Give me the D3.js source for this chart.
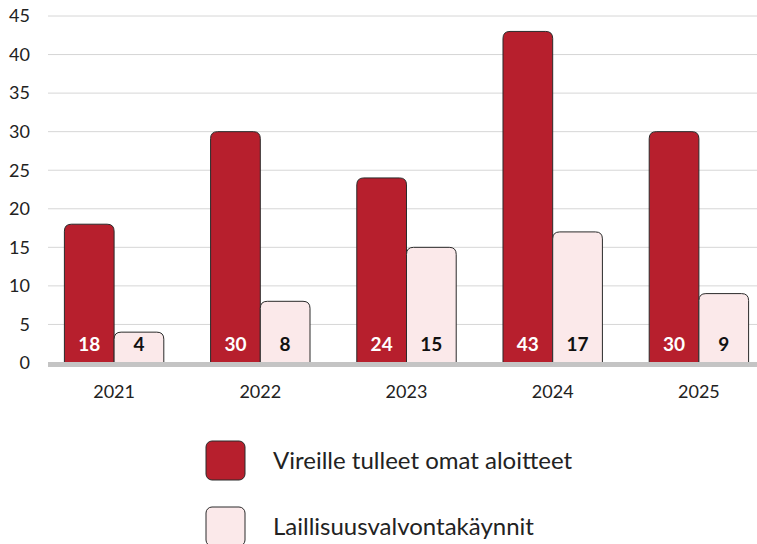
<!DOCTYPE html>
<html>
<head>
<meta charset="utf-8">
<script src="https://cdn.jsdelivr.net/npm/d3@7"></script>
<style>
  body { margin: 0; background: #fff; }
  text { font-family: Lato, "Open Sans", sans-serif; }
</style>
</head>
<body>
<div id="chart"></div>
<script>
const years = ["2021", "2022", "2023", "2024", "2025"]
const omatAloitteet = [18, 30, 24, 43, 30]
const valvontakaynnit = [4, 8, 15, 17, 9]
const seriesNames = ["Vireille tulleet omat aloitteet", "Laillisuusvalvontakäynnit"]
const yTicks = [0, 5, 10, 15, 20, 25, 30, 35, 40, 45]

const width = 757, height = 544
const red = "#b71f2d", pink = "#fbe9ea"

const svg = d3.select("#chart").append("svg")
  .attr("width", width).attr("height", height)

const y = d3.scaleLinear().domain([0, 45]).range([363, 16])
const x = d3.scaleBand().domain(years).range([41, 772]).paddingInner(0.32).paddingOuter(0.16)
const sub = d3.scaleBand().domain([0, 1]).range([0, x.bandwidth()])

// gridlines
svg.append("g").selectAll("line").data(yTicks.filter(d => d > 0)).enter()
  .append("line")
  .attr("x1", 48).attr("x2", width)
  .attr("y1", d => y(d)).attr("y2", d => y(d))
  .attr("stroke", "#d6d6d6").attr("stroke-width", 1)

svg.append("g").selectAll("text").data(yTicks).enter()
  .append("text")
  .attr("x", 30).attr("y", d => y(d))
  .attr("dy", "0.35em").attr("text-anchor", "end")
  .attr("font-size", 18).attr("fill", "#222")
  .text(d => d)

// rounded-top bar path
function topRounded(x0, y0, w, h, r) {
  r = Math.min(r, h)
  return `M${x0},${y0 + h}V${y0 + r}Q${x0},${y0} ${x0 + r},${y0}H${x0 + w - r}Q${x0 + w},${y0} ${x0 + w},${y0 + r}V${y0 + h}Z`
}

const rows = years.map((yr, i) => ({year: yr, vals: [omatAloitteet[i], valvontakaynnit[i]]}))
const groups = svg.selectAll(".eventGroups").data(rows).enter()
  .append("g").attr("class", "eventGroups")
  .attr("transform", d => `translate(${x(d.year)},0)`)

groups.selectAll("path").data(d => d.vals).enter()
  .append("path")
  .attr("d", (d, i) => topRounded(sub(i), y(d), sub.bandwidth(), y(0) - y(d), 7))
  .attr("fill", (d, i) => i === 0 ? red : pink)
  .attr("stroke", "#2a2a2a").attr("stroke-width", 1)

groups.selectAll("text.val").data(d => d.vals).enter()
  .append("text").attr("class", "val")
  .attr("x", (d, i) => sub(i) + sub.bandwidth() / 2)
  .attr("y", 344).attr("dy", "0.35em")
  .attr("text-anchor", "middle")
  .attr("font-size", 19).attr("font-weight", "bold")
  .attr("fill", (d, i) => i === 0 ? "#fff" : "#111")
  .text(d => d)

// baseline
svg.append("line")
  .attr("x1", 48).attr("x2", width)
  .attr("y1", y(0) + 1.5).attr("y2", y(0) + 1.5)
  .attr("stroke", "#c4c4c4").attr("stroke-width", 5)

svg.append("g").selectAll("text").data(years).enter()
  .append("text")
  .attr("x", d => x(d) + x.bandwidth() / 2)
  .attr("y", 392).attr("dy", "0.35em")
  .attr("text-anchor", "middle")
  .attr("font-size", 18).attr("fill", "#222")
  .text(d => d)

// legend
const legend = svg.append("g").selectAll("g").data(seriesNames).enter()
  .append("g").attr("transform", (d, i) => `translate(206,${441 + i * 66})`)
legend.append("rect")
  .attr("width", 39).attr("height", 39).attr("rx", 6)
  .attr("fill", (d, i) => i === 0 ? red : pink)
  .attr("stroke", "#2a2a2a").attr("stroke-width", 1)
legend.append("text")
  .attr("x", 67).attr("y", 20).attr("dy", "0.35em")
  .attr("font-size", 24).attr("fill", "#222")
  .text(d => d)
</script>
</body>
</html>
